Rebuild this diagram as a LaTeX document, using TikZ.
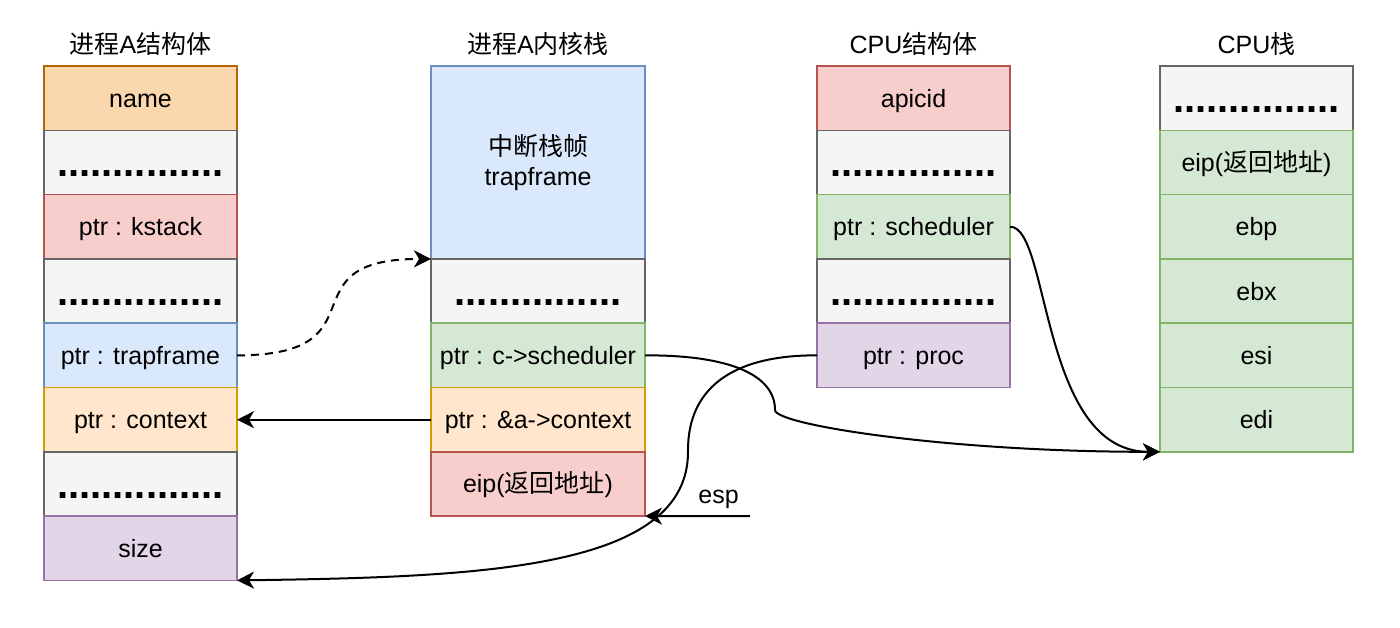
\documentclass[tikz,border=0pt]{standalone}
\usepackage{fontspec}
\setmainfont{Liberation Sans}
\newfontfamily\cjk{Noto Sans CJK SC}
\usepackage{tikz}
\usetikzlibrary{arrows.meta,positioning}
\definecolor{orangefill}{HTML}{FAD7AC}
\definecolor{orangeline}{HTML}{B46504}
\definecolor{grayfill}{HTML}{F5F5F5}
\definecolor{grayline}{HTML}{666666}
\definecolor{redfill}{HTML}{F8CECC}
\definecolor{redline}{HTML}{B85450}
\definecolor{bluefill}{HTML}{DAE8FC}
\definecolor{blueline}{HTML}{6C8EBF}
\definecolor{peachfill}{HTML}{FFE6CC}
\definecolor{peachline}{HTML}{D79B00}
\definecolor{purplefill}{HTML}{E1D5E7}
\definecolor{purpleline}{HTML}{9673A6}
\definecolor{greenfill}{HTML}{D5E8D4}
\definecolor{greenline}{HTML}{82B366}
\newcommand{\dotsrow}{{\fontsize{20}{20}\selectfont\bfseries...............}}

\begin{document}
\begin{tikzpicture}[x=0.5pt, y=-0.5pt,
    cell/.style={rectangle, draw, line width=0.75pt, minimum width=96.5pt, minimum height=32.15pt, inner sep=0pt, outer sep=0pt, font=\fontsize{12.5}{15}\selectfont, align=center, text height=10pt, text depth=1pt},
    wide/.style={cell, minimum width=107pt},
    dotcell/.style={graycell, text height=14.3pt, text depth=0pt},
    title/.style={font=\fontsize{12.5}{15}\selectfont, inner sep=0pt},
    orangecell/.style={draw=orangeline, fill=orangefill},
    graycell/.style={draw=grayline, fill=grayfill},
    redcell/.style={draw=redline, fill=redfill},
    bluecell/.style={draw=blueline, fill=bluefill},
    peachcell/.style={draw=peachline, fill=peachfill},
    purplecell/.style={draw=purpleline, fill=purplefill},
    greencell/.style={draw=greenline, fill=greenfill},
    arr/.style={-{Stealth[length=8.5pt, width=8.5pt, inset=2.5pt]}, line width=1pt}
]
    \useasboundingbox (0,0) rectangle (1400,627);

    % Process A struct
    \node (name) [cell, orangecell] at (140.5,98.15) {name};
    \node (dots1) [cell, dotcell, below=0pt of name] {\dotsrow};
    \node (kstack) [cell, redcell, below=0pt of dots1] {ptr : kstack};
    \node (dots2) [cell, dotcell, below=0pt of kstack] {\dotsrow};
    \node (trapptr) [cell, bluecell, below=0pt of dots2] {ptr : trapframe};
    \node (ctxptr) [cell, peachcell, below=0pt of trapptr] {ptr : context};
    \node (dots3) [cell, dotcell, below=0pt of ctxptr] {\dotsrow};
    \node (size) [cell, purplecell, below=0pt of dots3] {size};
    \node (t1) [title, above=5pt of name] {{\cjk 进程}A{\cjk 结构体}};

    % Process A kernel stack
    \node (trapframe) [wide, bluecell, minimum height=96.45pt, text height=, text depth=, right=97pt of name.north east, anchor=north west] {{\cjk 中断栈帧}\\trapframe};
    \node (kdots) [wide, dotcell, below=0pt of trapframe] {\dotsrow};
    \node (cschedptr) [wide, greencell, below=0pt of kdots] {ptr : c-\textgreater scheduler};
    \node (actxptr) [wide, peachcell, below=0pt of cschedptr] {ptr : \&a-\textgreater context};
    \node (keip) [wide, redcell, below=0pt of actxptr] {eip({\cjk 返回地址})};
    \node (t2) [title, above=5pt of trapframe] {{\cjk 进程}A{\cjk 内核栈}};

    % CPU struct
    \node (apicid) [cell, redcell, right=86pt of trapframe.north east, anchor=north west] {apicid};
    \node (cdots1) [cell, dotcell, below=0pt of apicid] {\dotsrow};
    \node (schedptr) [cell, greencell, below=0pt of cdots1] {ptr : scheduler};
    \node (cdots2) [cell, dotcell, below=0pt of schedptr] {\dotsrow};
    \node (procptr) [cell, purplecell, below=0pt of cdots2] {ptr : proc};
    \node (t3) [title, above=5pt of apicid] {CPU{\cjk 结构体}};

    % CPU stack
    \node (sdots) [cell, dotcell, right=75pt of apicid.north east, anchor=north west] {\dotsrow};
    \node (seip) [cell, greencell, below=0pt of sdots] {eip({\cjk 返回地址})};
    \node (ebp) [cell, greencell, below=0pt of seip] {ebp};
    \node (ebx) [cell, greencell, below=0pt of ebp] {ebx};
    \node (esi) [cell, greencell, below=0pt of ebx] {esi};
    \node (edi) [cell, greencell, below=0pt of esi] {edi};
    \node (t4) [title, above=5pt of sdots] {CPU{\cjk 栈}};

    % pointers
    \draw[arr, dash pattern=on 4pt off 3pt] (trapptr.east) .. controls +(150,0) and +(-150,0) .. (trapframe.south west);
    \draw[arr] (actxptr.west) -- (ctxptr.east);
    \draw[arr] (cschedptr.east) .. controls (730,355) and (775,375) .. (775,410) .. controls (775,425) and (950,452) .. (edi.south west);
    \draw[arr] (schedptr.east) .. controls (1050,226) and (1040,452) .. (edi.south west);
    \draw[arr] (procptr.west) .. controls (730,355) and (688,390) .. (688,450) .. controls (690,570) and (480,577) .. (size.south east);
    \coordinate (espend) at (750,516);
    \draw[arr] (espend) -- node[pos=0.3, above, font=\fontsize{12.5}{15}\selectfont] {esp} (keip.south east);
\end{tikzpicture}
\end{document}
